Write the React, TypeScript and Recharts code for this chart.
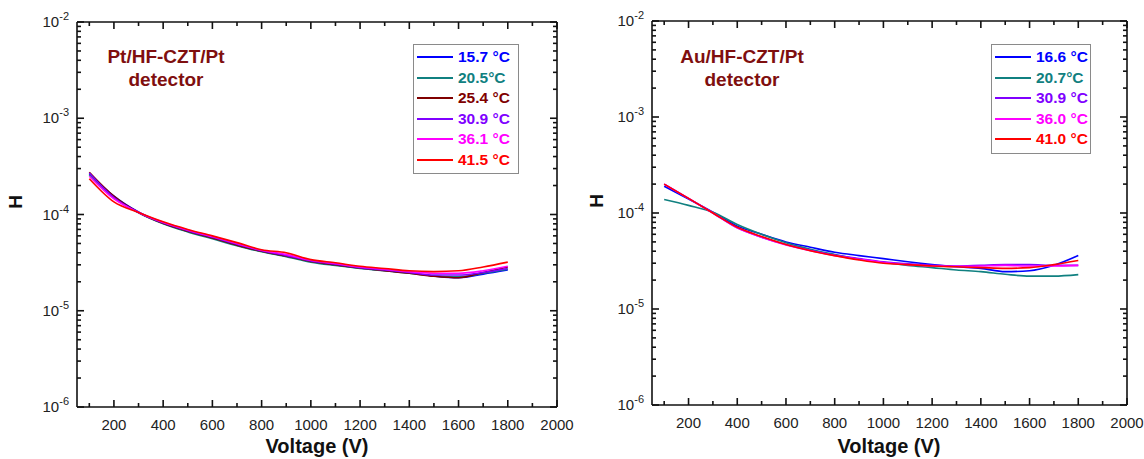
import { LineChart, Line, XAxis, YAxis } from 'recharts';

// bias voltage (V)
const VOLTAGE = [100, 200, 300, 400, 500, 600, 700, 800, 900, 1000, 1100, 1200, 1300, 1400, 1500, 1600, 1700, 1800];

// Pt/HF-CZT/Pt detector
const PT_15_7 = [2.65e-4, 1.55e-4, 1.06e-4, 8.1e-5, 6.7e-5, 5.7e-5, 4.8e-5, 4.15e-5, 3.7e-5, 3.25e-5, 3.0e-5, 2.78e-5, 2.62e-5, 2.48e-5, 2.3e-5, 2.2e-5, 2.4e-5, 2.65e-5];
const PT_20_5 = [2.6e-4, 1.5e-4, 1.04e-4, 8.0e-5, 6.6e-5, 5.6e-5, 4.75e-5, 4.1e-5, 3.65e-5, 3.2e-5, 2.95e-5, 2.75e-5, 2.6e-5, 2.45e-5, 2.3e-5, 2.25e-5, 2.45e-5, 2.7e-5];
const PT_25_4 = [2.75e-4, 1.55e-4, 1.05e-4, 8.1e-5, 6.7e-5, 5.7e-5, 4.8e-5, 4.15e-5, 3.7e-5, 3.25e-5, 3.0e-5, 2.78e-5, 2.6e-5, 2.45e-5, 2.28e-5, 2.2e-5, 2.5e-5, 2.85e-5];
const PT_30_9 = [2.7e-4, 1.5e-4, 1.05e-4, 8.2e-5, 6.8e-5, 5.8e-5, 4.9e-5, 4.2e-5, 3.75e-5, 3.3e-5, 3.05e-5, 2.8e-5, 2.65e-5, 2.5e-5, 2.35e-5, 2.35e-5, 2.5e-5, 2.75e-5];
const PT_36_1 = [2.5e-4, 1.45e-4, 1.05e-4, 8.3e-5, 6.9e-5, 5.9e-5, 5.0e-5, 4.25e-5, 3.85e-5, 3.35e-5, 3.1e-5, 2.85e-5, 2.7e-5, 2.55e-5, 2.45e-5, 2.45e-5, 2.6e-5, 2.9e-5];
const PT_41_5 = [2.35e-4, 1.35e-4, 1.05e-4, 8.4e-5, 7.0e-5, 6.0e-5, 5.1e-5, 4.3e-5, 4.0e-5, 3.4e-5, 3.15e-5, 2.9e-5, 2.75e-5, 2.6e-5, 2.55e-5, 2.6e-5, 2.85e-5, 3.2e-5];

// Au/HF-CZT/Pt detector
const AU_16_6 = [1.9e-4, 1.4e-4, 1.02e-4, 7.3e-5, 6.0e-5, 5.0e-5, 4.4e-5, 3.9e-5, 3.6e-5, 3.35e-5, 3.1e-5, 2.9e-5, 2.75e-5, 2.65e-5, 2.45e-5, 2.5e-5, 2.85e-5, 3.6e-5];
const AU_20_7 = [1.38e-4, 1.2e-4, 1.02e-4, 7.6e-5, 6.0e-5, 4.9e-5, 4.2e-5, 3.7e-5, 3.3e-5, 3.05e-5, 2.85e-5, 2.7e-5, 2.55e-5, 2.45e-5, 2.3e-5, 2.2e-5, 2.2e-5, 2.28e-5];
const AU_30_9 = [2.0e-4, 1.42e-4, 1.0e-4, 7.0e-5, 5.6e-5, 4.7e-5, 4.1e-5, 3.65e-5, 3.35e-5, 3.1e-5, 2.95e-5, 2.85e-5, 2.8e-5, 2.85e-5, 2.9e-5, 2.9e-5, 2.85e-5, 2.85e-5];
const AU_36_0 = [2.0e-4, 1.42e-4, 1.0e-4, 7.0e-5, 5.6e-5, 4.65e-5, 4.05e-5, 3.6e-5, 3.3e-5, 3.05e-5, 2.9e-5, 2.82e-5, 2.78e-5, 2.8e-5, 2.85e-5, 2.8e-5, 2.8e-5, 2.85e-5];
const AU_41_0 = [2.0e-4, 1.42e-4, 1.0e-4, 7.1e-5, 5.7e-5, 4.7e-5, 4.05e-5, 3.6e-5, 3.25e-5, 3.0e-5, 2.9e-5, 2.8e-5, 2.75e-5, 2.7e-5, 2.65e-5, 2.7e-5, 2.9e-5, 3.2e-5];

const X_TICKS = [100, 200, 300, 400, 500, 600, 700, 800, 900, 1000, 1100, 1200, 1300, 1400, 1500, 1600, 1700, 1800, 1900, 2000];
const DECADES = [-6, -5, -4, -3];

const Y_TICKS: number[] = [];
DECADES.forEach(d => {
  for (let m = 1; m <= 9; m++) Y_TICKS.push(m * Math.pow(10, d));
});
Y_TICKS.push(1e-2);

const FONT = '"Liberation Sans", Arial, sans-serif';
const AXIS = '#111';
const TITLE_RED = '#7f0f0f';

const isDecade = (v: number) => Math.abs(Math.log10(v) - Math.round(Math.log10(v))) < 1e-6;

type Series = { name: string; color: string; values: number[] };

const PT_SERIES: Series[] = [
  { name: '15.7 °C', color: '#0000ff', values: PT_15_7 },
  { name: '20.5°C', color: '#108080', values: PT_20_5 },
  { name: '25.4 °C', color: '#800000', values: PT_25_4 },
  { name: '30.9 °C', color: '#8000ff', values: PT_30_9 },
  { name: '36.1 °C', color: '#ff00ff', values: PT_36_1 },
  { name: '41.5 °C', color: '#ff0000', values: PT_41_5 },
];

const AU_SERIES: Series[] = [
  { name: '16.6 °C', color: '#0000ff', values: AU_16_6 },
  { name: '20.7°C', color: '#108080', values: AU_20_7 },
  { name: '30.9 °C', color: '#8000ff', values: AU_30_9 },
  { name: '36.0 °C', color: '#ff00ff', values: AU_36_0 },
  { name: '41.0 °C', color: '#ff0000', values: AU_41_0 },
];

// ticks drawn inward, like the Origin style
function BottomTick(props: any) {
  const { x, y, payload } = props;
  const v = payload.value;
  const major = v % 200 === 0;
  return (
    <g>
      <line x1={x} x2={x} y1={y} y2={y - (major ? 7 : 4)} stroke={AXIS} strokeWidth={1.6} />
      {major && (
        <text x={x} y={y + 23} textAnchor="middle" fontSize={15} fontFamily={FONT} fill="#222">{v}</text>
      )}
    </g>
  );
}

function TopTick(props: any) {
  const { x, y, payload } = props;
  const major = payload.value % 200 === 0;
  return <line x1={x} x2={x} y1={y} y2={y + (major ? 7 : 4)} stroke={AXIS} strokeWidth={1.6} />;
}

function LeftTick(props: any) {
  const { x, y, payload } = props;
  const v = payload.value;
  const major = isDecade(v);
  const exp = Math.round(Math.log10(v));
  return (
    <g>
      <line x1={x} x2={x + (major ? 7 : 4)} y1={y} y2={y} stroke={AXIS} strokeWidth={1.6} />
      {major && (
        <text x={x - 8} y={y + 5} textAnchor="end" fontSize={15} fontFamily={FONT} fill="#222">
          10<tspan fontSize={11} dy={-7}>{exp}</tspan>
        </text>
      )}
    </g>
  );
}

function RightTick(props: any) {
  const { x, y, payload } = props;
  const major = isDecade(payload.value);
  return <line x1={x} x2={x - (major ? 7 : 4)} y1={y} y2={y} stroke={AXIS} strokeWidth={1.6} />;
}

function Panel({ series, width, margin }: { series: Series[]; width: number; margin: any }) {
  const rows = VOLTAGE.map((v, i) => {
    const row: Record<string, number> = { v };
    series.forEach((s, k) => { row['s' + k] = s.values[i]; });
    return row;
  });
  const frame = { stroke: AXIS, strokeWidth: 1.6 };
  return (
    <LineChart width={width} height={459} data={rows} margin={margin}>
      <XAxis dataKey="v" type="number" domain={[50, 2000]} ticks={X_TICKS} interval={0}
        tick={(p: any) => <BottomTick {...p} />} tickLine={false} tickSize={0} tickMargin={0} height={1}
        axisLine={frame} />
      <XAxis xAxisId="top" orientation="top" dataKey="v" type="number" domain={[50, 2000]} ticks={X_TICKS} interval={0}
        tick={(p: any) => <TopTick {...p} />} tickLine={false} tickSize={0} tickMargin={0} height={1}
        axisLine={frame} />
      <YAxis scale="log" domain={[1e-6, 1e-2]} ticks={Y_TICKS} interval={0} allowDataOverflow
        tick={(p: any) => <LeftTick {...p} />} tickLine={false} tickSize={0} tickMargin={0} width={1}
        axisLine={frame} />
      <YAxis yAxisId="right" orientation="right" scale="log" domain={[1e-6, 1e-2]} ticks={Y_TICKS} interval={0} allowDataOverflow
        tick={(p: any) => <RightTick {...p} />} tickLine={false} tickSize={0} tickMargin={0} width={1}
        axisLine={frame} />
      {series.map((s, k) => (
        <Line key={s.name} dataKey={'s' + k} type="monotone" stroke={s.color} strokeWidth={1.6}
          dot={false} isAnimationActive={false} />
      ))}
    </LineChart>
  );
}

function LegendBox({ series, left, top, width }: { series: Series[]; left: number; top: number; width: number }) {
  return (
    <div style={{
      position: 'absolute', left, top, width, border: '1px solid #8a8a8a', background: '#fff',
      padding: '2px 0 3px 0', fontFamily: FONT, fontWeight: 700, fontSize: 15.5,
    }}>
      {series.map(s => (
        <div key={s.name} style={{ display: 'flex', alignItems: 'center', height: 20.5 }}>
          <span style={{ display: 'inline-block', width: 36, height: 2, background: s.color, marginLeft: 3, marginRight: 5 }} />
          <span style={{ color: s.color }}>{s.name}</span>
        </div>
      ))}
    </div>
  );
}

const titleStyle: any = {
  position: 'absolute', fontFamily: FONT, fontWeight: 700, fontSize: 19, color: TITLE_RED,
  textAlign: 'center', lineHeight: '23px', width: 180,
};
const hStyle: any = {
  position: 'absolute', fontFamily: FONT, fontWeight: 700, fontSize: 19, color: '#111',
  transform: 'rotate(-90deg)',
};
const xLabelStyle: any = {
  position: 'absolute', fontFamily: FONT, fontWeight: 700, fontSize: 20, color: '#111',
  width: 200, textAlign: 'center',
};

export default function App() {
  return (
    <div style={{ position: 'absolute', left: 0, top: 0, width: 1144, height: 459, background: '#fff' }}>
      <div style={{ position: 'absolute', left: 0, top: 0 }}>
        <Panel series={PT_SERIES} width={580} margin={{ top: 21, right: 22, bottom: 51, left: 76 }} />
      </div>
      <div style={{ position: 'absolute', left: 580, top: 0 }}>
        <Panel series={AU_SERIES} width={564} margin={{ top: 20, right: 16, bottom: 53, left: 71 }} />
      </div>

      <div style={{ ...titleStyle, left: 76, top: 45 }}>Pt/HF-CZT/Pt<br />detector</div>
      <div style={{ ...titleStyle, left: 652, top: 45 }}>Au/HF-CZT/Pt<br />detector</div>

      <LegendBox series={PT_SERIES} left={413} top={44} width={104} />
      <LegendBox series={AU_SERIES} left={991} top={44} width={98} />

      <div style={{ ...hStyle, left: 9, top: 191 }}>H</div>
      <div style={{ ...hStyle, left: 590, top: 190 }}>H</div>

      <div style={{ ...xLabelStyle, left: 217, top: 435 }}>Voltage (V)</div>
      <div style={{ ...xLabelStyle, left: 789, top: 435 }}>Voltage (V)</div>
    </div>
  );
}
